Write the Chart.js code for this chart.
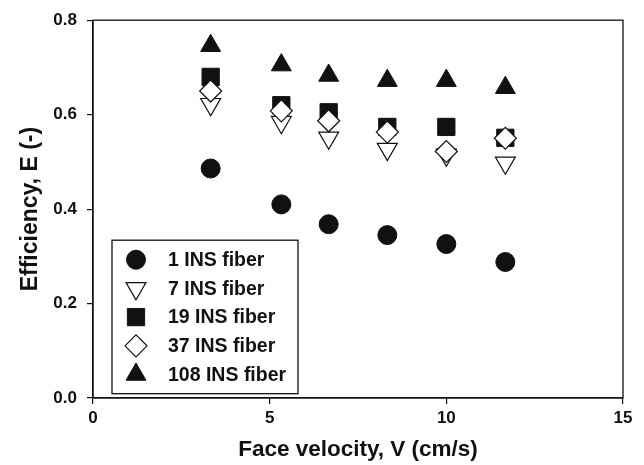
<!DOCTYPE html>
<html>
<head>
<meta charset="utf-8">
<title>Efficiency vs face velocity</title>
<script src="https://cdn.jsdelivr.net/npm/chart.js@4/dist/chart.umd.min.js"></script>
<style>
  html, body { margin: 0; padding: 0; background: #fff; }
  canvas { display: block; }
</style>
</head>
<body>
<canvas id="effChart" width="644" height="465"></canvas>
<script>
"use strict";

// face velocity (cm/s), shared by every series
const velocity = [3.33, 5.33, 6.67, 8.33, 10.0, 11.67];

// efficiency, one array per fiber count
const eff1 = [0.486, 0.410, 0.368, 0.345, 0.326, 0.288];
const eff7 = [0.622, 0.584, 0.551, 0.527, 0.515, 0.498];
const eff19 = [0.680, 0.620, 0.605, 0.574, 0.574, 0.551];
const eff37 = [0.650, 0.608, 0.587, 0.563, 0.522, 0.550];
const eff108 = [0.746, 0.705, 0.683, 0.672, 0.672, 0.657];

const seriesLabels = ['1 INS fiber', '7 INS fiber', '19 INS fiber', '37 INS fiber', '108 INS fiber'];

const xTicks = [0, 5, 10, 15];
const yTicks = [0.0, 0.2, 0.4, 0.6, 0.8];

const FONT = '"Liberation Sans", Arial, Helvetica, sans-serif';
const INK = '#111111';

const toPoints = (ys) => velocity.map((v, i) => ({x: v, y: ys[i]}));

// marker look for each series (same order as seriesLabels)
const markers = [
    {pointStyle: 'circle', rotation: 0, radius: 9.5, fill: INK, width: 1, order: 0},
    {pointStyle: 'triangle', rotation: 180, radius: 11.5, fill: '#ffffff', width: 1.2, order: 2},
    {pointStyle: 'rect', rotation: 0, radius: 12.2, fill: INK, width: 1, order: 3},
    {pointStyle: 'rectRot', rotation: 0, radius: 11, fill: '#ffffff', width: 1.2, order: 1},
    {pointStyle: 'triangle', rotation: 0, radius: 11.5, fill: INK, width: 1, order: 0},
];

const seriesValues = [eff1, eff7, eff19, eff37, eff108];

const datasets = seriesValues.map((vals, i) => ({
    label: seriesLabels[i],
    data: toPoints(vals),
    showLine: false,
    pointStyle: markers[i].pointStyle,
    rotation: markers[i].rotation,
    pointRadius: markers[i].radius,
    pointHoverRadius: markers[i].radius,
    backgroundColor: markers[i].fill,
    borderColor: INK,
    borderWidth: markers[i].width,
    order: markers[i].order,
}));

// full box round the plot area
const frame = {
    id: 'frame',
    afterDatasetsDraw(chart) {
        const {ctx, chartArea: a} = chart;
        ctx.save();
        ctx.strokeStyle = INK;
        ctx.lineWidth = 1.3;
        ctx.strokeRect(a.left, a.top, a.right - a.left, a.bottom - a.top);
        ctx.restore();
    }
};

// boxed legend sitting inside the plot, lower left
const boxLegend = {
    id: 'boxLegend',
    afterDraw(chart) {
        const {ctx, chartArea: a} = chart;
        const x0 = a.left + 19;
        const y0 = a.top + 220;
        const w = 186;
        const h = 153.5;
        const rowGap = 28.7;
        ctx.save();
        ctx.fillStyle = '#ffffff';
        ctx.fillRect(x0, y0, w, h);
        ctx.strokeStyle = INK;
        ctx.lineWidth = 1.3;
        ctx.strokeRect(x0, y0, w, h);

        ctx.font = 'bold 19.5px ' + FONT;
        ctx.textAlign = 'left';
        ctx.textBaseline = 'middle';
        seriesLabels.forEach((label, i) => {
            const cy = y0 + 19.5 + i * rowGap;
            const cx = x0 + 24;
            const m = markers[i];
            ctx.fillStyle = m.fill;
            ctx.strokeStyle = INK;
            ctx.lineWidth = m.width;
            Chart.helpers.drawPoint(ctx, {
                pointStyle: m.pointStyle,
                rotation: m.rotation,
                radius: m.radius,
                borderWidth: m.width
            }, cx, cy);
            ctx.fillStyle = INK;
            ctx.fillText(label, x0 + 56, cy + 1);
        });
        ctx.restore();
    }
};

new Chart(document.getElementById('effChart'), {
    type: 'scatter',
    data: {datasets: datasets},
    plugins: [frame, boxLegend],
    options: {
        responsive: false,
        animation: false,
        devicePixelRatio: 1,
        layout: {
            padding: {top: 16, right: 21, bottom: 0, left: 0}
        },
        plugins: {
            legend: {display: false},
            tooltip: {enabled: false}
        },
        scales: {
            x: {
                type: 'linear',
                min: 0,
                max: 15,
                afterFit: (s) => { s.height = 67; },
                afterBuildTicks: (s) => { s.ticks = xTicks.map(v => ({value: v})); },
                ticks: {
                    padding: 4,
                    color: INK,
                    font: {family: FONT, size: 17, weight: 'bold'},
                    callback: (v) => String(v)
                },
                grid: {
                    drawOnChartArea: false,
                    drawTicks: true,
                    tickLength: 6,
                    color: INK,
                    lineWidth: 1.2
                },
                border: {color: INK, width: 1.3},
                title: {
                    display: true,
                    text: 'Face velocity, V (cm/s)',
                    color: INK,
                    font: {family: FONT, size: 22.5, weight: 'bold'},
                    padding: {top: 0, bottom: 2}
                }
            },
            y: {
                type: 'linear',
                min: 0,
                max: 0.8,
                afterFit: (s) => { s.width = 93; },
                afterBuildTicks: (s) => { s.ticks = yTicks.map(v => ({value: v})); },
                ticks: {
                    padding: 10,
                    color: INK,
                    font: {family: FONT, size: 17, weight: 'bold'},
                    callback: (v) => Number(v).toFixed(1)
                },
                grid: {
                    drawOnChartArea: false,
                    drawTicks: true,
                    tickLength: 6,
                    color: INK,
                    lineWidth: 1.2
                },
                border: {color: INK, width: 1.3},
                title: {
                    display: true,
                    text: 'Efficiency, E (-)',
                    color: INK,
                    font: {family: FONT, size: 23, weight: 'bold'},
                    padding: {top: 17, bottom: 0}
                }
            }
        }
    }
});
</script>
</body>
</html>
